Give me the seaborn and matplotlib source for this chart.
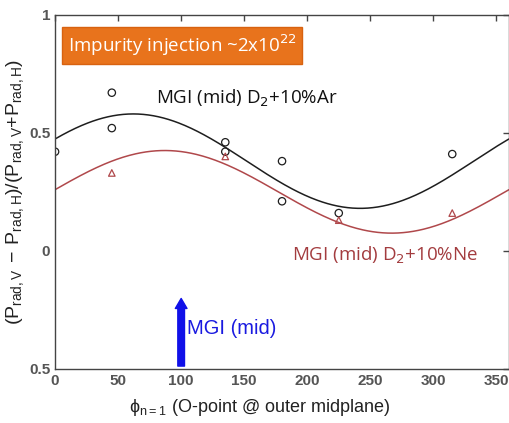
import numpy as np
import pandas as pd
import matplotlib
matplotlib.use("Agg")
import matplotlib.pyplot as plt
import seaborn as sns

# ---- data ----
ar_phi = [0, 45, 45, 135, 135, 180, 180, 225, 315]
ar_val = [0.42, 0.67, 0.52, 0.46, 0.42, 0.38, 0.21, 0.16, 0.41]
ne_phi = [45, 135, 225, 315]
ne_val = [0.33, 0.40, 0.13, 0.16]
# sinusoidal fits: offset, amplitude, phase of maximum (deg)
ar_fit = [0.38, 0.20, 62]
ne_fit = [0.25, 0.175, 87]
x_ticks = [0, 50, 100, 150, 200, 250, 300, 350]
y_ticks = [-0.5, 0, 0.5, 1]
y_ticklabels = ["0.5", "0", "0.5", "1"]
mgi_phi = 100

sns.set_theme(style="white")
plt.rcParams["font.family"] = ["Liberation Sans", "DejaVu Sans"]

fig = plt.figure(figsize=(5.10, 4.23), dpi=100)
ax = fig.add_axes([0.108, 0.128, 0.890, 0.837])

phi = np.linspace(0, 360, 361)
curves = pd.DataFrame({
    "phi": np.concatenate([phi, phi]),
    "val": np.concatenate([
        ar_fit[0] + ar_fit[1] * np.cos(np.deg2rad(phi - ar_fit[2])),
        ne_fit[0] + ne_fit[1] * np.cos(np.deg2rad(phi - ne_fit[2])),
    ]),
    "gas": ["Ar"] * len(phi) + ["Ne"] * len(phi),
})
black = "#1e1e1e"
red = "#b0484b"
sns.lineplot(data=curves, x="phi", y="val", hue="gas",
             palette={"Ar": black, "Ne": red}, lw=1.1, legend=False, ax=ax)

sns.scatterplot(x=ar_phi, y=ar_val, marker="o", s=28, facecolor="none",
                edgecolor=black, linewidth=0.9, ax=ax)
sns.scatterplot(x=ne_phi, y=ne_val, marker="^", s=22, facecolor="none",
                edgecolor=red, linewidth=0.9, ax=ax)

ax.set_xlim(0, 360)
ax.set_ylim(-0.5, 1)
ax.set_xticks(x_ticks)
ax.set_yticks(y_ticks)
ax.set_yticklabels(y_ticklabels)
ax.tick_params(direction="in", length=4, width=1, colors="#444444",
               labelsize=11, top=True, right=True, labelcolor="#555555")
for lab in ax.get_xticklabels() + ax.get_yticklabels():
    lab.set_fontweight("bold")
for s in ax.spines.values():
    s.set_color("#444444")
    s.set_linewidth(1.0)

ax.set_xlabel(r"$\mathregular{\phi_{n=1}}$ (O-point @ outer midplane)",
              fontsize=13, color="#222222")
ax.xaxis.set_label_coords(0.45, -0.08)
ax.set_ylabel(r"$\mathregular{(P_{rad,V}\,-\,P_{rad,H})/(P_{rad,V}{+}P_{rad,H})}$",
              fontsize=14, color="#222222", labelpad=2)

ax.text(10, 0.87, r"Impurity injection ~2x10$^{22}$", fontsize=13.5,
        color="white", family=["Open Sans", "DejaVu Sans"], va="center",
        bbox=dict(boxstyle="square,pad=0.3", facecolor="#e8731c",
                  edgecolor="#d86210"))
ax.text(80, 0.645, r"MGI (mid) D$_2$+10%Ar", fontsize=13.5, color="#111111",
        family=["Open Sans", "DejaVu Sans"], va="center")
ax.text(188, -0.02, r"MGI (mid) D$_2$+10%Ne", fontsize=13.5, color="#a33c3f",
        family=["Open Sans", "DejaVu Sans"], va="center")

ax.annotate("", xy=(mgi_phi, -0.19), xytext=(mgi_phi, -0.5),
            arrowprops=dict(arrowstyle="simple,head_width=0.7,head_length=0.6,tail_width=0.4",
                            facecolor="#1010e8", edgecolor="#1010e8"))
ax.text(105, -0.33, "MGI (mid)", fontsize=14.5, color="#1a1ae0", va="center")

fig.savefig("out.png", dpi=100)
